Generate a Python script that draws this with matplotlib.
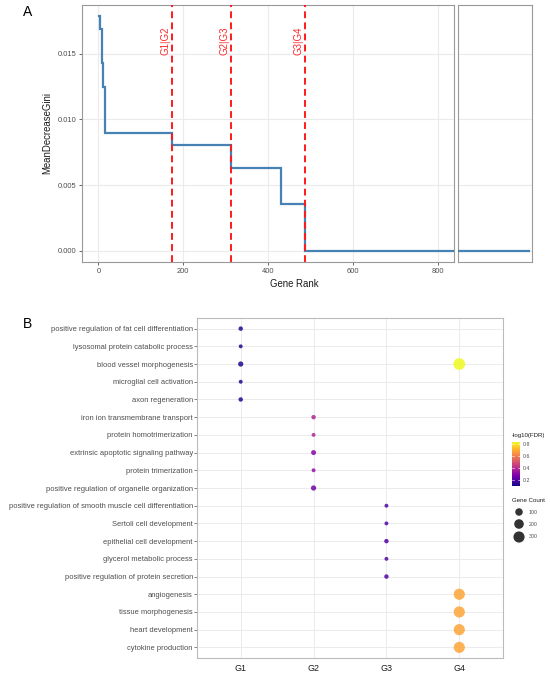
import numpy as np
import matplotlib
matplotlib.use("Agg")
import matplotlib.pyplot as plt
from matplotlib import cm, colors

plt.rcParams['font.family'] = ['Liberation Sans', 'DejaVu Sans']

# ---- Panel A data: step curve of MeanDecreaseGini by gene rank ----
step_rank = [1, 3, 8, 10, 16, 174, 313, 429, 487, 837]
step_gini = [0.01786, 0.0169, 0.01426, 0.01248, 0.00893, 0.00804, 0.00627, 0.00355, 0.0, 0.0]
cut_rank = [174, 313, 487]
cut_label = ['G1|G2', 'G2|G3', 'G3|G4']

# ---- Panel B data: GO enrichment dot plot ----
terms = [
    'positive regulation of fat cell differentiation',
    'lysosomal protein catabolic process',
    'blood vessel morphogenesis',
    'microglial cell activation',
    'axon regeneration',
    'iron ion transmembrane transport',
    'protein homotrimerization',
    'extrinsic apoptotic signaling pathway',
    'protein trimerization',
    'positive regulation of organelle organization',
    'positive regulation of smooth muscle cell differentiation',
    'Sertoli cell development',
    'epithelial cell development',
    'glycerol metabolic process',
    'positive regulation of protein secretion',
    'angiogenesis',
    'tissue morphogenesis',
    'heart development',
    'cytokine production',
]
groups = ['G1', 'G2', 'G3', 'G4']
dot_term = ['positive regulation of fat cell differentiation', 'lysosomal protein catabolic process',
            'blood vessel morphogenesis', 'microglial cell activation', 'axon regeneration',
            'iron ion transmembrane transport', 'protein homotrimerization',
            'extrinsic apoptotic signaling pathway', 'protein trimerization',
            'positive regulation of organelle organization',
            'positive regulation of smooth muscle cell differentiation', 'Sertoli cell development',
            'epithelial cell development', 'glycerol metabolic process',
            'positive regulation of protein secretion',
            'blood vessel morphogenesis', 'angiogenesis', 'tissue morphogenesis',
            'heart development', 'cytokine production']
dot_group = ['G1'] * 5 + ['G2'] * 5 + ['G3'] * 5 + ['G4'] * 5
dot_fdr = [0.12, 0.12, 0.12, 0.12, 0.12,
           0.38, 0.38, 0.30, 0.32, 0.26,
           0.20, 0.20, 0.20, 0.20, 0.20,
           0.83, 0.68, 0.68, 0.68, 0.68]
dot_count = [15, 8, 30, 8, 15,
             15, 8, 25, 8, 30,
             8, 8, 15, 8, 15,
             340, 300, 300, 300, 300]
legend_counts = [100, 200, 300]
cbar_ticks = [0.2, 0.4, 0.6, 0.8]

W, H = 550, 677
fig = plt.figure(figsize=(W / 100, H / 100), dpi=100, facecolor='white')


def px_axes(l, t, r, b):
    return fig.add_axes([l / W, 1 - b / H, (r - l) / W, (b - t) / H])


grid_c = '#ebebeb'
tick_c = '#4d4d4d'
border_c = '#999999'

# ================= Panel A =================
axA = px_axes(82, 5, 454, 262)
axA2 = px_axes(457.5, 5, 531.7, 262)
ylim = (-0.00086, 0.0187)

xs = np.repeat(step_rank, 2)[1:]
ys = np.repeat(step_gini, 2)[:-1]
axA.plot(xs, ys, color='#4682b4', lw=1.6, solid_joinstyle='miter', zorder=3)
for r, lab in zip(cut_rank, cut_label):
    axA.axvline(r, color='#ff1a1a', lw=1.4, ls=(0, (3.5, 2.2)), zorder=4)
    axA.text(r - 4, 0.0149, lab, rotation=90, color='#ff2a2a', fontsize=7,
             ha='right', va='bottom', zorder=5)
axA.set_xlim(-38.4, 837)
axA.set_ylim(*ylim)
axA.set_xticks([0, 200, 400, 600, 800])
axA.set_yticks([0.0, 0.005, 0.010, 0.015])
axA.set_yticklabels(['0.000', '0.005', '0.010', '0.015'])
axA.set_ylabel('MeanDecreaseGini', fontsize=6.9, color='#1a1a1a', labelpad=4)

axA2.plot([0, 0.96], [0, 0], color='#4682b4', lw=1.6, zorder=3)
axA2.set_xlim(0, 1)
axA2.set_ylim(*ylim)
axA2.set_xticks([])
axA2.set_yticks([0.0, 0.005, 0.010, 0.015])
axA2.tick_params(left=False, labelleft=False)

for ax in (axA, axA2):
    ax.grid(True, color=grid_c, lw=0.8, zorder=0)
    ax.set_axisbelow(True)
    ax.tick_params(labelsize=5.4, colors=tick_c, length=2.5, width=0.6, pad=1.5)
    for s in ax.spines.values():
        s.set_color(border_c)
        s.set_linewidth(0.8)
fig.text(294.5 / W, 1 - 284 / H, 'Gene Rank', fontsize=6.9, color='#1a1a1a',
         ha='center', va='center')
fig.text(28 / W, 1 - 12 / H, 'A', fontsize=10, ha='center', va='center')

# ================= Panel B =================
axB = px_axes(197, 318, 503, 658)
norm = colors.Normalize(vmin=0.1, vmax=0.83)
cmap = plt.get_cmap('plasma')


def dot_size(c):
    d_px = 2.5 + 0.5 * np.sqrt(np.asarray(c, dtype=float))
    return (d_px * 0.72) ** 2


ypos = {t: len(terms) - i for i, t in enumerate(terms)}
xpos = {g: i + 1 for i, g in enumerate(groups)}
bx = [xpos[g] for g in dot_group]
by = [ypos[t] for t in dot_term]
axB.scatter(bx, by, s=dot_size(dot_count), c=dot_fdr, cmap=cmap, norm=norm,
            alpha=0.85, linewidths=0, zorder=3)
axB.set_xlim(0.4, 4.6)
axB.set_ylim(0.4, len(terms) + 0.6)
axB.set_xticks(range(1, len(groups) + 1))
axB.set_xticklabels(groups)
axB.set_yticks([ypos[t] for t in terms])
axB.set_yticklabels(terms)
axB.grid(True, color=grid_c, lw=0.7, zorder=0)
axB.set_axisbelow(True)
axB.tick_params(axis='y', labelsize=5.4, colors=tick_c, length=2, width=0.5, pad=1)
axB.tick_params(axis='x', labelsize=6.4, colors='#1a1a1a', length=0, pad=4)
for s in axB.spines.values():
    s.set_color('#bbbbbb')
    s.set_linewidth(0.8)
fig.text(27 / W, 1 - 324 / H, 'B', fontsize=10, ha='center', va='center')

# colour bar legend
cax = px_axes(512, 442, 520, 486)
cb = fig.colorbar(cm.ScalarMappable(norm=norm, cmap=cmap), cax=cax)
cb.set_ticks(cbar_ticks)
cb.outline.set_visible(False)
cax.tick_params(labelsize=3.8, colors=tick_c, length=0, pad=2)
for t in cbar_ticks:
    cax.axhline(t, xmin=0, xmax=0.2, color='white', lw=0.4)
    cax.axhline(t, xmin=0.8, xmax=1, color='white', lw=0.4)
fig.text(512 / W, 1 - 436 / H, '-log10(FDR)', fontsize=4.4, color='#1a1a1a',
         ha='left', va='center')

# size legend
fig.text(512 / W, 1 - 501 / H, 'Gene Count', fontsize=4.4, color='#1a1a1a',
         ha='left', va='center')
lax = px_axes(510, 505, 548, 545)
lax.set_xlim(0, 38)
lax.set_ylim(40, 0)
lax.axis('off')
ly = [7, 19, 32]
lax.scatter([9] * len(legend_counts), ly, s=dot_size(legend_counts), color='#333333',
            linewidths=0)
for yy, c in zip(ly, legend_counts):
    lax.text(19, yy, str(c), fontsize=3.8, color=tick_c, va='center', ha='left')

fig.savefig('out.png', dpi=100, facecolor='white')
